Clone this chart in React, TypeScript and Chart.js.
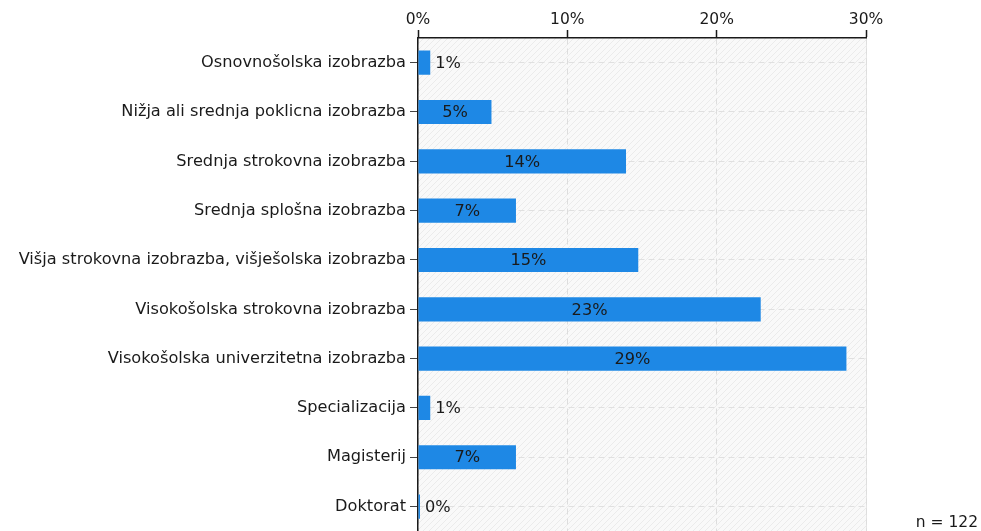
import React, { useEffect, useRef } from "react";
import { Chart, registerables } from "chart.js";

Chart.register(...registerables);

const categories = [
  "Osnovnošolska izobrazba",
  "Nižja ali srednja poklicna izobrazba",
  "Srednja strokovna izobrazba",
  "Srednja splošna izobrazba",
  "Višja strokovna izobrazba, višješolska izobrazba",
  "Visokošolska strokovna izobrazba",
  "Visokošolska univerzitetna izobrazba",
  "Specializacija",
  "Magisterij",
  "Doktorat",
];
const percentages = [0.82, 4.92, 13.93, 6.56, 14.75, 22.95, 28.69, 0.82, 6.56, 0];
const tickValues = [0, 10, 20, 30];
const footnote = "n = 122";

const FONT = "'DejaVu Sans', Verdana, sans-serif";
const FS = 16.2;

function makePattern(): CanvasPattern | string {
  const c = document.createElement("canvas");
  c.width = 6;
  c.height = 6;
  const g = c.getContext("2d");
  if (!g) return "#f8f8f8";
  g.fillStyle = "#f9f9f9";
  g.fillRect(0, 0, 6, 6);
  g.strokeStyle = "#ebebeb";
  g.lineWidth = 1;
  g.beginPath();
  g.moveTo(0, 6);
  g.lineTo(6, 0);
  g.moveTo(-3, 3);
  g.lineTo(3, -3);
  g.moveTo(3, 9);
  g.lineTo(9, 3);
  g.stroke();
  const p = g.createPattern(c, "repeat");
  return p || "#f8f8f8";
}

const bgPlugin = {
  id: "bgHatch",
  beforeDraw(chart: any) {
    const { ctx, chartArea } = chart;
    ctx.save();
    ctx.fillStyle = makePattern();
    ctx.fillRect(chartArea.left, chartArea.top, chartArea.right - chartArea.left, chartArea.bottom - chartArea.top);
    ctx.strokeStyle = "#e4e4e4";
    ctx.lineWidth = 1;
    ctx.beginPath();
    ctx.moveTo(chartArea.right + 0.5, chartArea.top);
    ctx.lineTo(chartArea.right + 0.5, chartArea.bottom);
    ctx.stroke();
    ctx.restore();
  },
};

const labelPlugin = {
  id: "barLabels",
  afterDatasetsDraw(chart: any) {
    const { ctx } = chart;
    const meta = chart.getDatasetMeta(0);
    ctx.save();
    ctx.font = `${FS}px ${FONT}`;
    ctx.fillStyle = "#1a1a1a";
    ctx.textBaseline = "middle";
    meta.data.forEach((bar: any, i: number) => {
      const v = percentages[i];
      const text = `${Math.round(v)}%`;
      const w = ctx.measureText(text).width;
      const left = bar.base;
      const right = bar.x;
      if (right - left > w + 8) {
        ctx.textAlign = "center";
        ctx.fillText(text, (left + right) / 2, bar.y + 1);
      } else {
        ctx.textAlign = "left";
        ctx.fillText(text, right + 5, bar.y + 1);
      }
    });
    ctx.restore();
  },
};

export default function App() {
  const ref = useRef<HTMLCanvasElement | null>(null);
  useEffect(() => {
    if (!ref.current) return;
    const chart = new Chart(ref.current, {
      type: "bar",
      data: {
        labels: categories,
        datasets: [
          {
            data: percentages,
            backgroundColor: "#1e88e5",
            borderColor: "#1e88e5",
            borderWidth: 0,
            minBarLength: 2,
            barPercentage: 0.49,
            categoryPercentage: 1,
          },
        ],
      },
      options: {
        indexAxis: "y",
        animation: false,
        responsive: false,
        maintainAspectRatio: false,
        layout: { padding: { left: 0, right: 115, top: 0, bottom: 0 } },
        plugins: { legend: { display: false }, tooltip: { enabled: false } },
        scales: {
          x: {
            position: "top",
            min: 0,
            max: 30,
            afterBuildTicks(scale: any) {
              scale.ticks = tickValues.map((v) => ({ value: v }));
            },
            afterFit(scale: any) {
              scale.height = 38;
            },
            ticks: {
              callback: (v: any) => `${v}%`,
              color: "#1a1a1a",
              font: { family: FONT, size: 15.5 },
              padding: 1,
            },
            grid: {
              color: "#dddddd",
              lineWidth: 1,
              tickColor: "#1a1a1a",
              tickLength: 8,
              tickWidth: 1.5,
              tickBorderDash: [1, 0],
            },
            border: { color: "#1a1a1a", width: 1.5, dash: [6, 4] },
          },
          y: {
            afterFit(scale: any) {
              scale.width = 418;
            },
            ticks: {
              color: "#1a1a1a",
              font: { family: FONT, size: FS },
              padding: 4,
            },
            grid: {
              offset: false,
              color: "#e0e0e0",
              lineWidth: 1,
              tickColor: "#444444",
              tickLength: 8,
              tickWidth: 1,
              tickBorderDash: [1, 0],
            },
            border: { color: "#1a1a1a", width: 1.5, dash: [6, 4] },
          },
        },
      },
      plugins: [bgPlugin, labelPlugin],
    });
    return () => chart.destroy();
  }, []);
  return (
    <div style={{ position: "fixed", left: 0, top: 0, width: 981, height: 531, background: "#fff", overflow: "hidden" }}>
      <canvas ref={ref} width={981} height={545} style={{ width: 981, height: 545, display: "block" }} />
      <div
        style={{
          position: "absolute",
          right: 3,
          top: 513,
          fontFamily: FONT,
          fontSize: 15.5,
          color: "#1a1a1a",
          background: "#fff",
          lineHeight: "18px",
          whiteSpace: "pre",
        }}
      >
        {footnote}
      </div>
    </div>
  );
}
